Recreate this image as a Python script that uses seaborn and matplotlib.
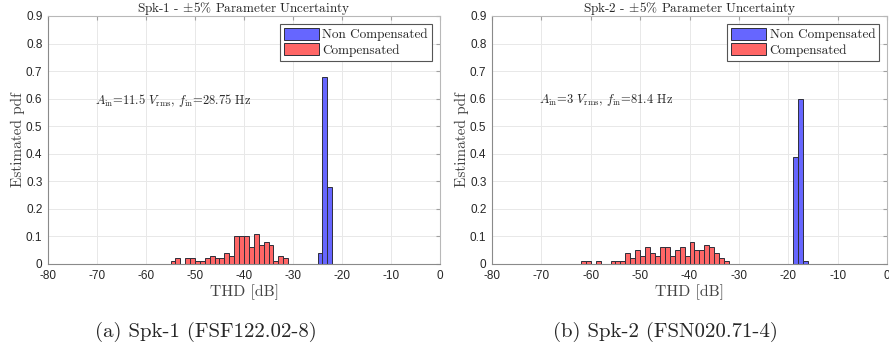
import numpy as np
import pandas as pd
import matplotlib
matplotlib.use("Agg")
import matplotlib.pyplot as plt
import seaborn as sns

# ---------------- data (pdf values per 1 dB bin, left edges in dB) ----------------
spk1_noncomp_left = [-25, -24, -23]
spk1_noncomp_pdf = [0.04, 0.68, 0.28]
spk1_comp_left = list(range(-55, -31))
spk1_comp_pdf = [0.01, 0.02, 0.00, 0.02, 0.02, 0.01, 0.01, 0.02, 0.03, 0.02, 0.02, 0.04,
                 0.03, 0.10, 0.10, 0.10, 0.06, 0.11, 0.07, 0.08, 0.07, 0.01, 0.03, 0.02]

spk2_noncomp_left = [-19, -18, -17]
spk2_noncomp_pdf = [0.39, 0.60, 0.01]
spk2_comp_left = list(range(-62, -32))
spk2_comp_pdf = [0.01, 0.01, 0.00, 0.01, 0.00, 0.00, 0.01, 0.01, 0.01, 0.04, 0.02, 0.05,
                 0.03, 0.06, 0.04, 0.03, 0.06, 0.06, 0.03, 0.05, 0.06, 0.03, 0.08, 0.05,
                 0.05, 0.07, 0.06, 0.04, 0.02, 0.01]

titles = ["Spk-1 - $\\pm$5% Parameter Uncertainty", "Spk-2 - $\\pm$5% Parameter Uncertainty"]
annotations = [r"$A_{\rm in}$=11.5 $V_{\rm rms}$, $f_{\rm in}$=28.75 Hz",
               r"$A_{\rm in}$=3 $V_{\rm rms}$, $f_{\rm in}$=81.4 Hz"]
captions = ["(a) Spk-1 (FSF122.02-8)", "(b) Spk-2 (FSN020.71-4)"]
series_names = ["Non Compensated", "Compensated"]
xticks = [-80, -70, -60, -50, -40, -30, -20, -10, 0]
yticks = [0, 0.1, 0.2, 0.3, 0.4, 0.5, 0.6, 0.7, 0.8, 0.9]
ytick_labels = ["0", "0.1", "0.2", "0.3", "0.4", "0.5", "0.6", "0.7", "0.8", "0.9"]

# ---------------- style ----------------
sns.set_style("white")
plt.rcParams["mathtext.fontset"] = "cm"
plt.rcParams["axes.unicode_minus"] = False
SERIF = "cmr10"
SANS = "Liberation Sans"
BLUE = (0.4, 0.4, 1.0)
RED = (1.0, 0.4, 0.4)
EDGE = "#2e2e3a"

fig = plt.figure(figsize=(8.89, 3.47), dpi=100)
ax1 = fig.add_axes([48 / 889, 1 - 264 / 347, 392 / 889, 248 / 347])
ax2 = fig.add_axes([492 / 889, 1 - 264 / 347, 395 / 889, 248 / 347])

panels = [
    (ax1, spk1_noncomp_left, spk1_noncomp_pdf, spk1_comp_left, spk1_comp_pdf),
    (ax2, spk2_noncomp_left, spk2_noncomp_pdf, spk2_comp_left, spk2_comp_pdf),
]

for i, (ax, nl, npdf, cl, cpdf) in enumerate(panels):
    for left, pdf, color, name in [(nl, npdf, BLUE, series_names[0]),
                                   (cl, cpdf, RED, series_names[1])]:
        left = np.asarray(left, dtype=float)
        df = pd.DataFrame({"thd": left + 0.5, "pdf": pdf})
        sns.histplot(data=df, x="thd", weights="pdf", binwidth=1,
                     binrange=(float(left[0]), float(left[-1] + 1)), stat="count",
                     color=color, alpha=1.0, edgecolor=EDGE, linewidth=0.7,
                     label=name, ax=ax)
    ax.set_xlim(-80, 0)
    ax.set_ylim(0, 0.9)
    ax.set_xticks(xticks)
    ax.set_xticklabels([str(t) for t in xticks], fontfamily=SANS, fontsize=8.5)
    ax.set_yticks(yticks)
    ax.set_yticklabels(ytick_labels, fontfamily=SANS, fontsize=8.5)
    ax.grid(True, color="#e8e8e8", linewidth=0.7)
    ax.set_axisbelow(True)
    for s in ["top", "right"]:
        ax.spines[s].set_visible(True)
        ax.spines[s].set_color("#b8b8b8")
        ax.spines[s].set_linewidth(0.8)
    for s in ["left", "bottom"]:
        ax.spines[s].set_color("#8a8a8a")
        ax.spines[s].set_linewidth(0.8)
    ax.tick_params(direction="in", length=3, color="#a0a0a0",
                   labelcolor="#262626", top=True, right=True)
    ax.tick_params(axis="x", pad=4)
    ax.tick_params(axis="y", pad=4)
    ax.set_xlabel("THD [dB]", fontfamily=SERIF, fontsize=11.3, labelpad=2, color="#444444")
    ax.set_ylabel("Estimated pdf", fontfamily=SERIF, fontsize=11, labelpad=1, color="#444444")
    ax.set_title(titles[i], fontfamily=SERIF, fontsize=9.5, pad=3)
    ax.text(-70.5, 0.595, annotations[i], fontfamily=SERIF, fontsize=9,
            va="center", ha="left")
    leg = ax.legend(loc="upper right", prop={"family": SERIF, "size": 9.5},
                    handlelength=2.6, handleheight=1.0, handletextpad=0.3,
                    labelspacing=0.15, borderpad=0.3, borderaxespad=0.6,
                    fancybox=False, framealpha=1, edgecolor="#555555")
    leg.get_frame().set_linewidth(0.8)

fig.text(206 / 889, 1 - 332 / 347, captions[0], fontfamily=SERIF, fontsize=15,
         ha="center", va="center")
fig.text(665 / 889, 1 - 332 / 347, captions[1], fontfamily=SERIF, fontsize=15,
         ha="center", va="center")

fig.savefig("out.png", dpi=100)
